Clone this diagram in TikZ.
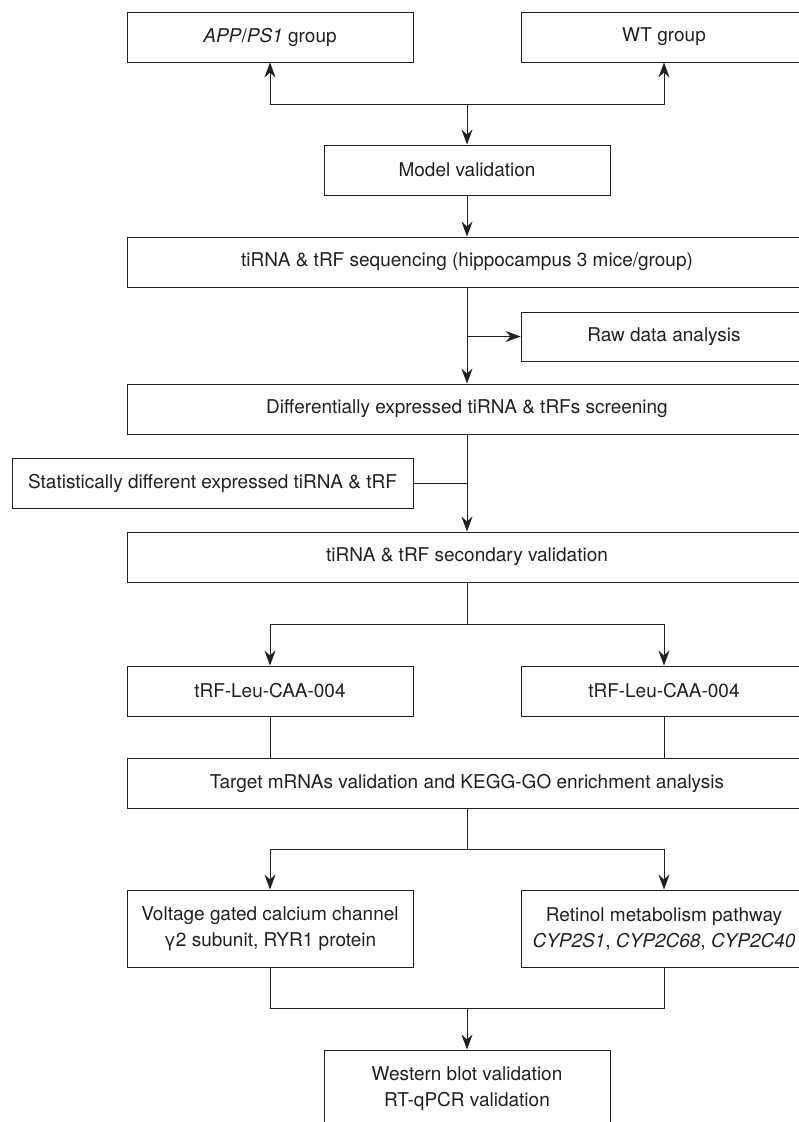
\documentclass[tikz,border=0pt]{standalone}
\usepackage{fontspec}
\setmainfont{TeX Gyre Heros}
\usetikzlibrary{arrows.meta}
\definecolor{ink}{HTML}{231F20}
\begin{document}
\begin{tikzpicture}[x=1pt,y=-1pt,
  box/.style={draw=ink,line width=0.9pt,text=ink,minimum width=286pt,minimum height=50pt,
    inner sep=0pt,align=center,font=\fontsize{19}{26}\selectfont},
  widebox/.style={box,minimum width=680pt},
  tallbox/.style={box,minimum height=77pt},
  link/.style={draw=ink,line width=0.9pt},
  arr/.style={link,-{Stealth[length=15pt,width=11pt,inset=5pt]}}]
\useasboundingbox (0,0) rectangle (799,1122);
\clip (0,0) rectangle (799,1122);

\node[box] (app) at (270,37) {\textit{APP}/\textit{PS1} group};
\node[box] (wt) at (664,37) {WT group};
\node[box] (model) at (467,170) {Model validation};
\node[widebox] (seq) at (467,262) {tiRNA \& tRF sequencing (hippocampus 3 mice/group)};
\node[box,minimum height=49pt] (raw) at (664,336.5) {Raw data analysis};
\node[widebox] (diff) at (467,409) {Differentially expressed tiRNA \& tRFs screening};
\node[box,minimum width=401pt] (stat) at (212.5,483) {Statistically different expressed tiRNA \& tRF};
\node[widebox] (second) at (467,557) {tiRNA \& tRF secondary validation};
\node[box] (trfa) at (270,691) {tRF-Leu-CAA-004};
\node[box] (trfb) at (664,691) {tRF-Leu-CAA-004};
\node[widebox] (target) at (467,783) {Target mRNAs validation and KEGG-GO enrichment analysis};
\node[tallbox] (volt) at (270,928.5) {Voltage gated calcium channel\\γ2 subunit, RYR1 protein};
\node[tallbox] (retinol) at (664,928.5) {Retinol metabolism pathway\\\textit{CYP2S1}, \textit{CYP2C68}, \textit{CYP2C40}};
\node[tallbox] (western) at (467,1088.5) {Western blot validation\\RT-qPCR validation};

% branch points
\coordinate (split1) at (467,104);
\coordinate (rawjoin) at (467,336.5);
\coordinate (split2) at (467,624);
\coordinate (split3) at (467,849);
\coordinate (merge) at (467,1008);

\draw[arr] (split1) -| (app);
\draw[arr] (split1) -| (wt);
\draw[arr] (split1) -- (model);
\draw[arr] (model) -- (seq);
\draw[arr] (seq) -- (diff);
\draw[arr] (rawjoin) -- (raw);
\draw[arr] (diff) -- (second);
\draw[link] (stat) -- (stat -| diff);

\draw[link] (second) -- (split2);
\draw[arr] (split2) -| (trfa);
\draw[arr] (split2) -| (trfb);
\draw[link] (trfa) -- (trfa |- target.north);
\draw[link] (trfb) -- (trfb |- target.north);

\draw[link] (target) -- (split3);
\draw[arr] (split3) -| (volt);
\draw[arr] (split3) -| (retinol);
\draw[link] (volt) |- (merge);
\draw[link] (retinol) |- (merge);
\draw[arr] (merge) -- (western);
\end{tikzpicture}
\end{document}
